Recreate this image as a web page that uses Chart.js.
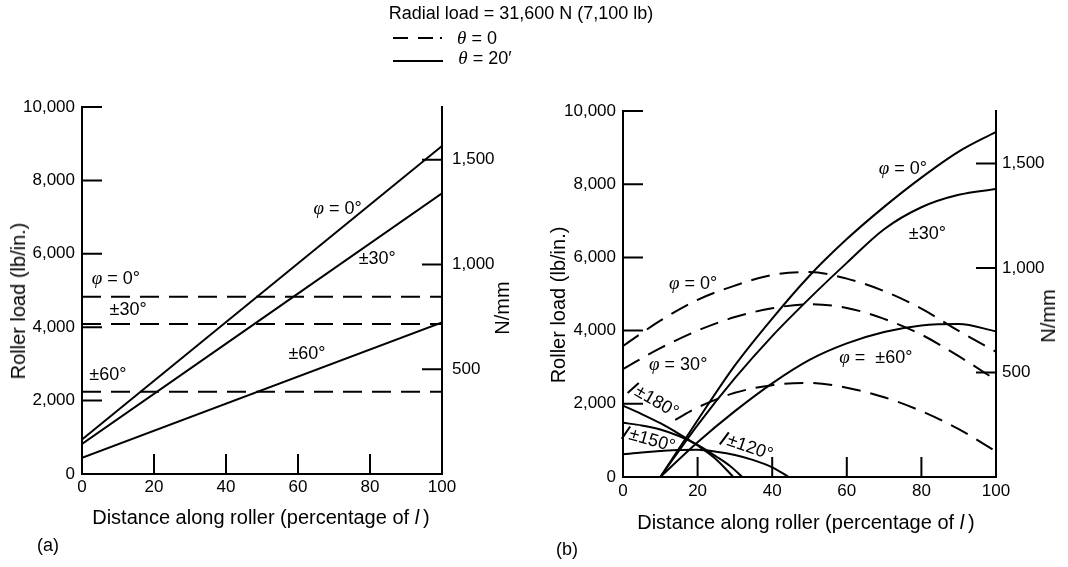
<!DOCTYPE html>
<html lang="en">
<head>
<meta charset="UTF-8">
<title>Roller load distribution</title>
<script src="https://cdn.jsdelivr.net/npm/chart.js@4.4.1/dist/chart.umd.min.js"></script>
<style>
  body { margin: 0; background: #fff; color: #000; font-family: "Liberation Sans", Arial, sans-serif; }
  #page { position: relative; width: 1068px; height: 567px; overflow: hidden; }
  canvas { position: absolute; top: 0; }
  .t { position: absolute; white-space: nowrap; transform: translate(-50%, -50%); font-size: 18px; line-height: 1; }
  .g { font-family: "Liberation Serif", serif; font-style: italic; font-size: 19px; }
  .ax { font-size: 20px; }
  .ld { display: inline-block; width: 1.6px; height: 15px; background: #000; margin-right: 3px; vertical-align: -2px; transform: rotate(18deg); }
  .bar { position: absolute; background: #000; height: 2px; }
</style>
</head>
<body>
<div id="page">
  <canvas id="chartA" width="540" height="567" style="left:0"></canvas>
  <canvas id="chartB" width="528" height="567" style="left:540px"></canvas>

  <div class="t" style="left:521px;top:13px">Radial load = 31,600 N (7,100 lb)</div>
  <div class="bar" style="left:393px;top:37px;width:15px"></div>
  <div class="bar" style="left:418px;top:37px;width:15px"></div>
  <div class="bar" style="left:440px;top:37px;width:2px"></div>
  <div class="t" style="left:477px;top:37px"><span class="g">θ</span> = 0</div>
  <div class="bar" style="left:393px;top:60px;width:50px"></div>
  <div class="t" style="left:485px;top:57px"><span class="g">θ</span> = 20′</div>

  <div class="t ax" style="left:18px;top:301px;transform:translate(-50%,-50%) rotate(-90deg)">Roller load (lb/in.)</div>
  <div class="t ax" style="left:502px;top:308px;transform:translate(-50%,-50%) rotate(-90deg)">N/mm</div>
  <div class="t ax" style="left:261px;top:517px">Distance along roller (percentage of <i>l</i>&thinsp;)</div>
  <div class="t" style="left:48px;top:545px">(a)</div>

  <div class="t ax" style="left:558px;top:305px;transform:translate(-50%,-50%) rotate(-90deg)">Roller load (lb/in.)</div>
  <div class="t ax" style="left:1048px;top:316px;transform:translate(-50%,-50%) rotate(-90deg)">N/mm</div>
  <div class="t ax" style="left:806px;top:522px">Distance along roller (percentage of <i>l</i>&thinsp;)</div>
  <div class="t" style="left:567px;top:549px">(b)</div>
</div>

<script>
// ---- data (lb/in. against % of roller length) ----
const LB_TO_NMM = 0.17513;
const Y_TICKS = [0, 2000, 4000, 6000, 8000, 10000];
const N_TICKS = [500, 1000, 1500];
const X_TICKS = [20, 40, 60, 80];

// panel (a): straight lines
const xA = [0, 100];
const aSolid0 = [940, 8940];
const aSolid30 = [820, 7650];
const aSolid60 = [440, 4130];
const aDash0 = [4830, 4830];
const aDash30 = [4090, 4090];
const aDash60 = [2240, 2240];

// panel (b): curves
const xB = [10, 20, 30, 40, 50, 60, 70, 80, 90, 100];
const bSolid0 = [0, 1550, 3050, 4330, 5500, 6500, 7380, 8180, 8890, 9430];
const bSolid30 = [0, 1420, 2700, 3850, 4880, 5850, 6770, 7370, 7710, 7870];
const bSolid60 = [0, 950, 1800, 2560, 3200, 3650, 3960, 4140, 4180, 3980];

const xBd = [0, 10, 20, 30, 40, 50, 60, 70, 80, 90, 100];
const bDash0 = [3580, 4270, 4840, 5230, 5520, 5600, 5420, 5080, 4600, 3990, 3420];
const bDash30 = [2950, 3520, 4000, 4370, 4610, 4720, 4620, 4320, 3890, 3300, 2650];
const xBd60 = [14, 20, 30, 40, 50, 60, 70, 80, 90, 100];
const bDash60 = [1560, 1900, 2300, 2510, 2570, 2440, 2180, 1800, 1310, 700];

const x180 = [0, 5, 10, 15, 20, 25, 29.6];
const b180 = [1950, 1720, 1470, 1180, 860, 480, 0];
const x150 = [0, 5, 10, 15, 20, 25, 28.7, 32];
const b150 = [1480, 1410, 1300, 1120, 880, 560, 300, 0];
const x120 = [0, 5, 10, 15, 20, 25, 30, 35, 40, 44.5];
const b120 = [620, 670, 710, 740, 745, 690, 600, 460, 265, 0];

// ---- helpers ----
const pts = (xs, ys) => xs.map((x, i) => ({ x: x, y: ys[i] }));
function solid(xs, ys) {
    return { data: pts(xs, ys), borderColor: '#000', borderWidth: 2, pointRadius: 0,
             fill: false, cubicInterpolationMode: 'monotone' };
}
function dashed(xs, ys) {
    return Object.assign(solid(xs, ys), { borderDash: [19, 10] });
}

// inner tick marks on the three axes
const innerTicks = {
    id: 'innerTicks',
    afterDraw(chart) {
        const { ctx, scales: { x, y, y2 } } = chart;
        ctx.save();
        ctx.strokeStyle = '#000';
        ctx.lineWidth = 2;
        ctx.beginPath();
        Y_TICKS.slice(1).forEach(v => {
            const py = y.getPixelForValue(v);
            ctx.moveTo(x.left, py); ctx.lineTo(x.left + 20, py);
        });
        N_TICKS.forEach(v => {
            const py = y2.getPixelForValue(v);
            ctx.moveTo(x.right - 20, py); ctx.lineTo(x.right, py);
        });
        X_TICKS.forEach(v => {
            const px = x.getPixelForValue(v);
            ctx.moveTo(px, y.bottom); ctx.lineTo(px, y.bottom - 20);
        });
        ctx.stroke();
        ctx.restore();
    }
};

function makeChart(id, datasets, box) {
    const tickFont = { family: '"Liberation Sans", Arial, sans-serif', size: 17 };
    const axisBase = {
        grid: { display: false, drawTicks: false },
        border: { display: true, color: '#000', width: 2 },
        ticks: { color: '#000', font: tickFont }
    };
    return new Chart(document.getElementById(id), {
        type: 'line',
        data: { datasets: datasets },
        options: {
            responsive: false,
            animation: false,
            events: [],
            layout: { padding: { top: box.top, left: 0, right: 0, bottom: 0 } },
            plugins: { legend: { display: false }, tooltip: { enabled: false } },
            scales: {
                x: Object.assign({}, axisBase, {
                    type: 'linear', min: 0, max: 100,
                    ticks: Object.assign({}, axisBase.ticks, { stepSize: 20, maxRotation: 0, padding: box.xPad }),
                    afterFit: s => { s.height = box.xH; }
                }),
                y: Object.assign({}, axisBase, {
                    position: 'left', min: 0, max: 10000,
                    afterBuildTicks: s => { s.ticks = Y_TICKS.map(v => ({ value: v })); },
                    ticks: Object.assign({}, axisBase.ticks, { padding: 7 }),
                    afterFit: s => { s.width = box.yW; }
                }),
                y2: Object.assign({}, axisBase, {
                    position: 'right', min: 0, max: 10000 * LB_TO_NMM,
                    afterBuildTicks: s => { s.ticks = N_TICKS.map(v => ({ value: v })); },
                    ticks: Object.assign({}, axisBase.ticks, { padding: box.y2Pad }),
                    afterFit: s => { s.width = box.y2W; }
                })
            }
        },
        plugins: [innerTicks]
    });
}

const chartA = makeChart('chartA', [
    solid(xA, aSolid0), solid(xA, aSolid30), solid(xA, aSolid60),
    dashed(xA, aDash0), dashed(xA, aDash30), dashed(xA, aDash60)
], { top: 107, xH: 93, yW: 82, y2W: 98, xPad: 3, y2Pad: 10 });

const chartB = makeChart('chartB', [
    solid(xB, bSolid0), solid(xB, bSolid30), solid(xB, bSolid60),
    dashed(xBd, bDash0), dashed(xBd, bDash30), dashed(xBd60, bDash60),
    solid(x180, b180), solid(x150, b150), solid(x120, b120)
], { top: 111, xH: 90, yW: 83, y2W: 72, xPad: 4, y2Pad: 6 });

// ---- curve labels, placed in data coordinates ----
const phi = '<span class="g">φ</span>';
const labelsA = [
    { html: phi + ' = 0°', x: 71, y: 7280 },
    { html: '±30°', x: 82, y: 5890 },
    { html: '±60°', x: 62.5, y: 3300 },
    { html: phi + ' = 0°', x: 9.4, y: 5370 },
    { html: '±30°', x: 12.8, y: 4500 },
    { html: '±60°', x: 7.2, y: 2725 }
];
const labelsB = [
    { html: phi + ' = 0°', x: 75, y: 8480 },
    { html: '±30°', x: 81.6, y: 6660 },
    { html: phi + ' = &nbsp;±60°', x: 67.8, y: 3300 },
    { html: phi + ' = 0°', x: 18.8, y: 5320 },
    { html: phi + ' = 30°', x: 14.8, y: 3110 },
    { html: '<span class="ld"></span>±180°', x: 8.6, y: 2110, rot: 30 },
    { html: '<span class="ld"></span>±150°', x: 7.2, y: 1050, rot: 16 },
    { html: '<span class="ld"></span>±120°', x: 33.6, y: 840, rot: 19 }
];

function placeLabels(chart, offsetX, items) {
    const page = document.getElementById('page');
    const sx = chart.scales.x, sy = chart.scales.y;
    items.forEach(it => {
        const d = document.createElement('div');
        d.className = 't';
        d.innerHTML = it.html;
        d.style.left = (offsetX + sx.getPixelForValue(it.x)) + 'px';
        d.style.top = sy.getPixelForValue(it.y) + 'px';
        if (it.rot) d.style.transform = 'translate(-50%,-50%) rotate(' + it.rot + 'deg)';
        page.appendChild(d);
    });
}
placeLabels(chartA, 0, labelsA);
placeLabels(chartB, 540, labelsB);
</script>
</body>
</html>
